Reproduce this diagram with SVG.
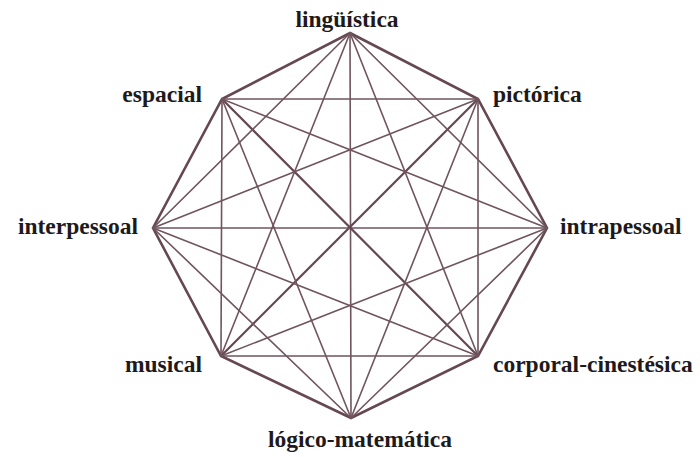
<svg xmlns="http://www.w3.org/2000/svg" width="700" height="457" viewBox="0 0 700 457">
<style>
.lbl{font-family:"Liberation Serif","Times New Roman",serif;font-weight:bold;font-size:23.5px;fill:#1e1a1c}
.edge{stroke:#654852;stroke-width:2.6;stroke-linecap:round;fill:none}
.dia{stroke:#654852;stroke-width:2.2;stroke-linecap:round}
.ch{stroke:#70545e;stroke-width:1.6;stroke-linecap:round}
</style>
<rect width="700" height="457" fill="#ffffff"/>
<g id="connectors">
<polygon class="edge" points="350,33 478,99 547,228 478,356 351,418 221,356 153,228 222,99"/>
<line class="ch" x1="350" y1="33" x2="351" y2="418"/>
<line class="dia" x1="478" y1="99" x2="221" y2="356"/>
<line class="ch" x1="547" y1="228" x2="153" y2="228"/>
<line class="dia" x1="478" y1="356" x2="222" y2="99"/>
<line class="ch" x1="350" y1="33" x2="547" y2="228"/>
<line class="ch" x1="350" y1="33" x2="478" y2="356"/>
<line class="ch" x1="350" y1="33" x2="221" y2="356"/>
<line class="ch" x1="350" y1="33" x2="153" y2="228"/>
<line class="ch" x1="478" y1="99" x2="478" y2="356"/>
<line class="ch" x1="478" y1="99" x2="351" y2="418"/>
<line class="ch" x1="478" y1="99" x2="153" y2="228"/>
<line class="ch" x1="478" y1="99" x2="222" y2="99"/>
<line class="ch" x1="547" y1="228" x2="351" y2="418"/>
<line class="ch" x1="547" y1="228" x2="221" y2="356"/>
<line class="ch" x1="547" y1="228" x2="222" y2="99"/>
<line class="ch" x1="478" y1="356" x2="221" y2="356"/>
<line class="ch" x1="478" y1="356" x2="153" y2="228"/>
<line class="ch" x1="351" y1="418" x2="153" y2="228"/>
<line class="ch" x1="351" y1="418" x2="222" y2="99"/>
<line class="ch" x1="221" y1="356" x2="222" y2="99"/>
</g>
<g id="node-linguistica"><text class="lbl" x="347" y="27" text-anchor="middle">lingüística</text></g>
<g id="node-pictorica"><text class="lbl" x="493" y="102">pictórica</text></g>
<g id="node-intrapessoal"><text class="lbl" x="560" y="234">intrapessoal</text></g>
<g id="node-corporal-cinestesica"><text class="lbl" x="493" y="372">corporal-cinestésica</text></g>
<g id="node-logico-matematica"><text class="lbl" x="360" y="447" text-anchor="middle">lógico-matemática</text></g>
<g id="node-musical"><text class="lbl" x="202" y="372" text-anchor="end">musical</text></g>
<g id="node-interpessoal"><text class="lbl" x="138" y="234" text-anchor="end">interpessoal</text></g>
<g id="node-espacial"><text class="lbl" x="202" y="102" text-anchor="end">espacial</text></g>
</svg>
